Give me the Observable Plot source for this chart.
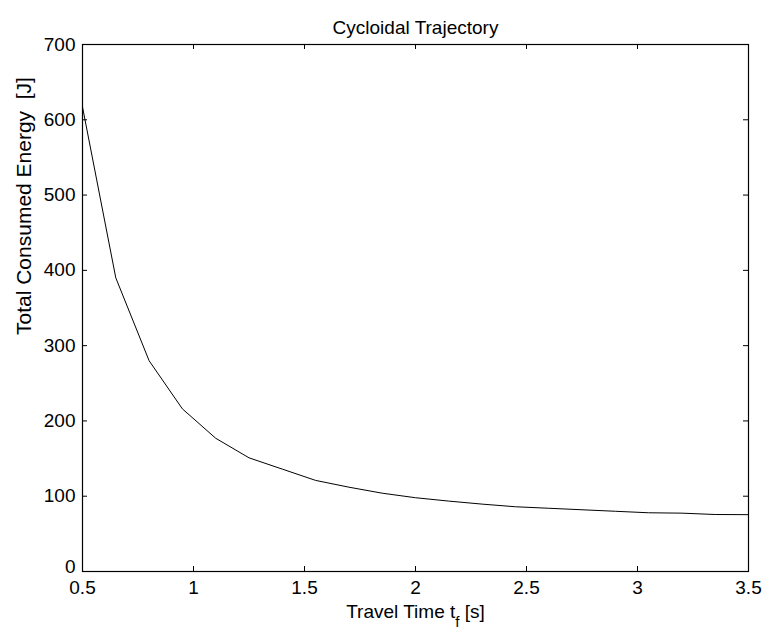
<!DOCTYPE html>
<html>
<head>
<meta charset="utf-8">
<script src="https://cdn.jsdelivr.net/npm/d3@7"></script>
<script src="https://cdn.jsdelivr.net/npm/@observablehq/plot@0.6"></script>
<style>
  html, body { margin: 0; padding: 0; background: #fff; }
</style>
</head>
<body>
<div id="chart"></div>
<script>
const titleText = "Cycloidal Trajectory";
const xLabel = "Travel Time t_f [s]";
const yLabel = "Total Consumed Energy  [J]";
const travelTime = [0.5, 0.65, 0.8, 0.95, 1.1, 1.25, 1.4, 1.55, 1.7, 1.85, 2.0, 2.15, 2.3, 2.45, 2.6, 2.75, 2.9, 3.05, 3.2, 3.35, 3.5];
const energy = [617, 390, 280, 216, 177, 151, 136, 121, 112, 104, 98, 93.5, 89.5, 86, 84, 82, 80, 78, 77.5, 75.7, 75.5];
const xTicks = [0.5, 1, 1.5, 2, 2.5, 3, 3.5];
const yTicks = [0, 100, 200, 300, 400, 500, 600, 700];

const data = travelTime.map((t, i) => ({t, e: energy[i]}));

const W = 767, H = 635, mL = 82, mR = 19, mT = 44, mB = 64;
const plotH = H - mT - mB, plotW = W - mL - mR;
const tick = 5;
const fs = 19;

const chart = Plot.plot({
  width: W, height: H,
  marginLeft: mL, marginRight: mR, marginTop: mT, marginBottom: mB,
  style: {fontFamily: "'Liberation Sans', Arial, Helvetica, sans-serif", fontSize: fs + "px", color: "#000", background: "#fff", overflow: "visible"},
  x: {domain: [0.5, 3.5], ticks: xTicks},
  y: {domain: [0, 700], ticks: yTicks},
  marks: [
    Plot.tickX(xTicks, {x: d => d, insetTop: plotH - tick, stroke: "#000"}),
    Plot.tickX(xTicks, {x: d => d, insetBottom: plotH - tick, stroke: "#000"}),
    Plot.tickY(yTicks, {y: d => d, insetRight: plotW - tick, stroke: "#000"}),
    Plot.tickY(yTicks, {y: d => d, insetLeft: plotW - tick, stroke: "#000"}),
    Plot.axisX(xTicks, {tickSize: 0, tickPadding: 9, tickFormat: d => String(d), fontSize: fs, label: null}),
    Plot.axisY(yTicks.filter(d => d !== 0), {tickSize: 0, tickPadding: 7, tickFormat: d => String(d), fontSize: fs, label: null}),
    Plot.axisY(yTicks.filter(d => d === 0), {tickSize: 0, tickPadding: 7, tickFormat: d => String(d), fontSize: fs, label: null, dy: -5}),
    Plot.line(data, {x: "t", y: "e", stroke: "#000", strokeWidth: 1}),
    Plot.frame({stroke: "#000", strokeWidth: 1.2}),
    Plot.text([titleText], {text: d => d, frameAnchor: "top", dy: -24, fontSize: fs, fill: "#000"}),
    Plot.text([xLabel], {text: d => d, frameAnchor: "bottom", dy: 46, fontSize: fs, fill: "#000"}),
    Plot.text([yLabel], {text: d => d, frameAnchor: "left", rotate: -90, dx: -58, dy: 27, fontSize: 21, fill: "#000"})
  ]
});

// render the subscript in the x label
d3.select(chart).selectAll("text").filter(function() { return this.textContent === xLabel; })
  .each(function() {
    const el = d3.select(this);
    el.text(null);
    el.append("tspan").text("Travel Time t");
    el.append("tspan").attr("baseline-shift", "sub").attr("font-size", "0.8em").text("f");
    el.append("tspan").text(" [s]");
  });

document.getElementById("chart").appendChild(chart);
</script>
</body>
</html>
